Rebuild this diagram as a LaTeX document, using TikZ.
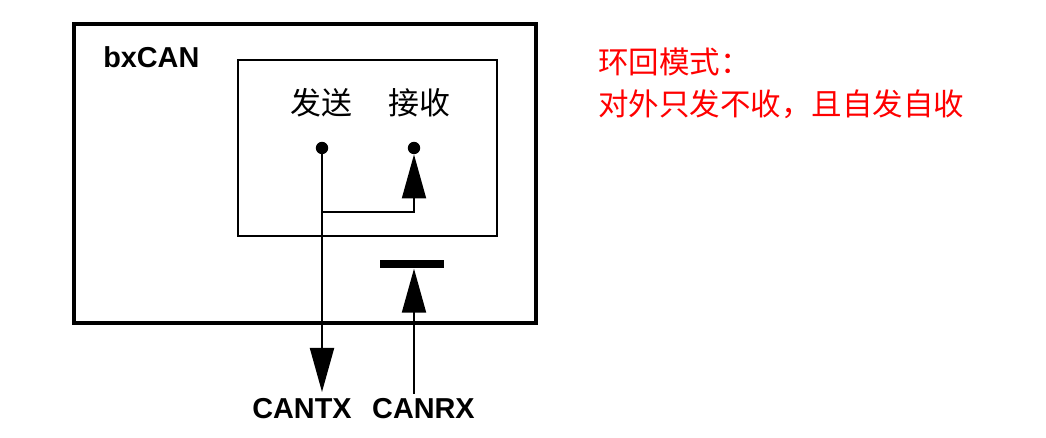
\documentclass[tikz,border=0pt]{standalone}
\usepackage{fontspec}
\newfontfamily\cjk{Noto Sans CJK SC}
\newfontfamily\helv{Liberation Sans}
\usepackage{tikz}
\tikzset{box node/.style={draw,line width=1.4pt},
	dot node/.style={circle,fill=black,minimum size=0.31cm,inner sep=0pt},
	bar node/.style={rectangle,fill=black,minimum width=1.58cm,minimum height=0.22cm,inner sep=0pt},
	pin node/.style={font=\helv\bfseries\fontsize{20.5}{24}\selectfont,inner sep=0pt},
	cn node/.style={font=\cjk\fontsize{22}{26}\selectfont,inner sep=0pt},
	note node/.style={font=\cjk\fontsize{21.7}{26}\selectfont,text=red,inner sep=0pt,anchor=west},
	signal/.style={line width=1.4pt,-{Triangle[length=1.1cm,width=0.6cm]}},
}
\usetikzlibrary{positioning,arrows.meta}
\begin{document}
\begin{tikzpicture}[x=0.025cm,y=-0.025cm]
	\useasboundingbox (0,0) rectangle (1046,438);
	
	%% outer and inner box
	\draw[line width=2.8pt] (74,24) rectangle (536,323);
	\draw[box node] (238,60) rectangle (497,236);
	\node[pin node,anchor=west] (can) at (103,57) {bxCAN};
	
	\node[cn node] (tx) at (321,103) {发送};
	\node[cn node] (rx) at (419,103) {接收};
	\node[dot node] (txdot) at (322,148) {};
	\node[dot node] (rxdot) at (414,148) {};
	\node[bar node] (rxbar) at (412,264) {};
	
	\node[pin node] (cantx) at (302,409) {CANTX};
	\node[pin node] (canrx) [right = 0.5cm of cantx] {CANRX};
	
	\coordinate (txend) at (322,392);
	\coordinate (rxstart) at (414,394);
	\coordinate (loop) at (322,212);
	
	\path[draw,signal]
	(txdot) -- (txend);
	\path[draw,signal]
	(loop) -| (rxdot.south);
	\path[draw,signal]
	(rxstart) -- (rxstart |- rxbar.south);
	%\draw (rx) -- (rxdot);
	
	\node[note node] (mode) at (598,62) {环回模式：};
	\node[note node] (desc) at (598,104) {对外只发不收，且自发自收};
\end{tikzpicture}
\end{document}
